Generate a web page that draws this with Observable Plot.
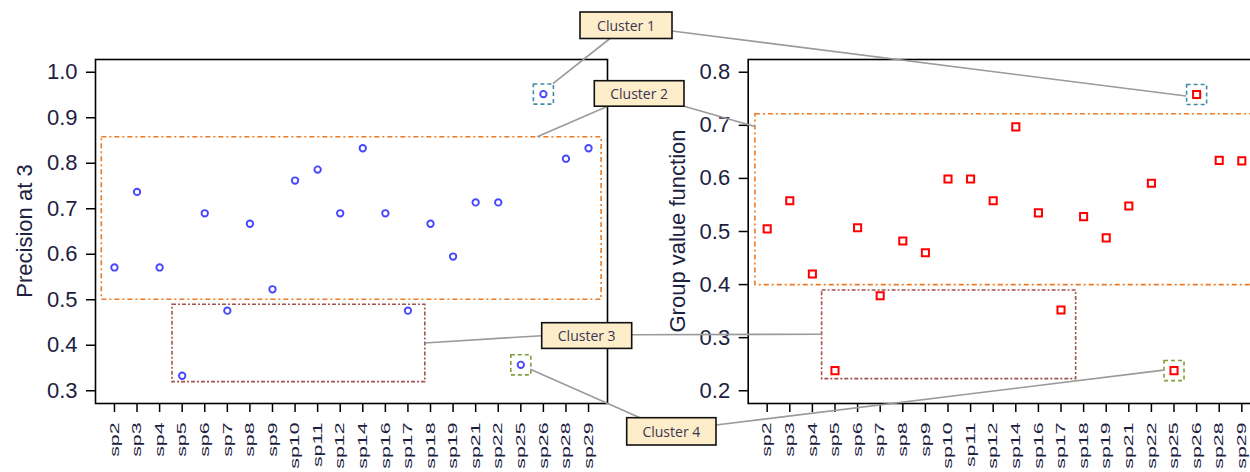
<!DOCTYPE html>
<html><head><meta charset="utf-8">
<script src="https://cdn.jsdelivr.net/npm/d3@7"></script>
<script src="https://cdn.jsdelivr.net/npm/@observablehq/plot@0.6"></script>
<style>
html,body{margin:0;padding:0;background:#fff;}
#wrap{position:relative;width:1250px;height:472px;overflow:hidden;background:#fff;font-family:"Liberation Sans",Arial,sans-serif;}
#wrap svg{position:absolute;top:0;}
</style></head><body><div id="wrap"></div>
<script>
// ---------- data ----------
const species = ["sp2","sp3","sp4","sp5","sp6","sp7","sp8","sp9","sp10","sp11","sp12","sp14","sp16","sp17","sp18","sp19","sp21","sp22","sp25","sp26","sp28","sp29"];
const precision = [0.571,0.737,0.571,0.333,0.690,0.476,0.667,0.523,0.762,0.786,0.690,0.833,0.690,0.476,0.667,0.595,0.714,0.714,0.357,0.952,0.810,0.833];
const groupValue = [0.505,0.558,0.420,0.238,0.507,0.379,0.482,0.460,0.599,0.599,0.558,0.697,0.535,0.352,0.528,0.488,0.548,0.591,0.238,0.758,0.634,0.633];
const precisionTicks = [0.3,0.4,0.5,0.6,0.7,0.8,0.9,1.0];
const groupTicks = [0.2,0.3,0.4,0.5,0.6,0.7,0.8];
const clusterNames = ["Cluster 1","Cluster 2","Cluster 3","Cluster 4"];
// cluster regions: x in species position (1..22), y in value units
const leftRegions = [
  {cluster:"Cluster 2", x1:0.44, x2:22.58, y1:0.500, y2:0.857},
  {cluster:"Cluster 3", x1:3.57, x2:14.77, y1:0.319, y2:0.489}
];
const rightRegions = [
  {cluster:"Cluster 2", x1:0.48, x2:22.60, y1:0.399, y2:0.721},
  {cluster:"Cluster 3", x1:3.43, x2:14.67, y1:0.222, y2:0.389}
];
const singleClusters = [{cluster:"Cluster 1", sp:"sp26"}, {cluster:"Cluster 4", sp:"sp25"}];

// ---------- styles ----------
const clusterColor = {"Cluster 1":"#3f8ca6","Cluster 2":"#ee7b22","Cluster 3":"#a4524f","Cluster 4":"#7f9e3c"};
const clusterDash = {"Cluster 1":"4,3","Cluster 2":"5,3,2,3","Cluster 3":"4,2,2,2","Cluster 4":"4,3"};
const textColor = "#1c2140";

const rows = species.map((s,i)=>({sp:s, i:i+1, p:precision[i], g:groupValue[i]}));
const positions = d3.range(1, species.length + 1);

const LEFT_X = 0, LEFT_W = 625;
const RIGHT_X = 630, RIGHT_W = 650;

function regionMarks(regions){
  return regions.map(r => Plot.rect([r], {x1:"x1", x2:"x2", y1:"y1", y2:"y2", fill:"none",
    stroke: clusterColor[r.cluster], strokeWidth:1.6, strokeDasharray: clusterDash[r.cluster]}));
}
function singleMarks(field){
  return singleClusters.map(c => Plot.dot(rows.filter(d => d.sp === c.sp), {x:"i", y:field, symbol:"square", r:11.3,
    fill:"none", stroke: clusterColor[c.cluster], strokeWidth:1.6, strokeDasharray: clusterDash[c.cluster]}));
}
function panel({width, marginLeft, marginRight, yDomain, yTicks, field, regions, pointMark}){
  return Plot.plot({
    width, height:472, marginLeft, marginRight, marginTop:59, marginBottom:69,
    style:{background:"transparent", overflow:"visible", fontFamily:"Liberation Sans, Arial, sans-serif"},
    x:{domain:[0.16, 22.84]},
    y:{domain:yDomain},
    marks:[
      ...regionMarks(regions),
      ...singleMarks(field),
      pointMark,
      Plot.axisY(yTicks, {tickSize:9, tickPadding:9, fontSize:22, tickFormat:d3.format(".1f"), label:null,
        stroke:"black", strokeWidth:1.5, fill:textColor}),
      Plot.axisX(positions, {tickSize:9, tickPadding:10, fontSize:13, tickRotate:-90, tickFormat:i => species[i-1],
        label:null, stroke:"black", strokeWidth:1.5, fill:textColor}),
      Plot.frame({stroke:"black", strokeWidth:1.6})
    ]
  });
}

const left = panel({width:LEFT_W, marginLeft:95, marginRight:LEFT_W-607, yDomain:[0.272,1.028], yTicks:precisionTicks,
  field:"p", regions:leftRegions,
  pointMark: Plot.dot(rows, {x:"i", y:"p", r:3.2, fill:"none", stroke:"#4646ff", strokeWidth:1.9})});
const right = panel({width:RIGHT_W, marginLeft:747.7-RIGHT_X, marginRight:RIGHT_X+RIGHT_W-1260.3, yDomain:[0.176,0.824], yTicks:groupTicks,
  field:"g", regions:rightRegions,
  pointMark: Plot.dot(rows, {x:"i", y:"g", symbol:"square", r:4, fill:"none", stroke:"#ff0000", strokeWidth:2})});

const wrap = document.getElementById("wrap");
left.style.left = LEFT_X + "px";
right.style.left = RIGHT_X + "px";
wrap.appendChild(left);
wrap.appendChild(right);

// stretch x tick labels along their length (as in the reference)
for (const svg of [left, right]) {
  d3.select(svg).selectAll('g[aria-label="x-axis tick label"] text').each(function(){
    const t = this.getAttribute("transform") || "";
    this.setAttribute("transform", t + " scale(1.64,1)");
  });
}

// ---------- overlay: axis titles, callout labels and connectors ----------
const lx = v => left.scale("x").apply(v) + LEFT_X, ly = v => left.scale("y").apply(v);
const rx = v => right.scale("x").apply(v) + RIGHT_X, ry = v => right.scale("y").apply(v);
const idx = s => species.indexOf(s) + 1;
const val = (arr, s) => arr[species.indexOf(s)];
const half = 10; // half-size of single-point cluster boxes (px)

const labelBoxes = {
  "Cluster 1": {x:580, y:12, w:92, h:26.5},
  "Cluster 2": {x:594.3, y:80.7, w:89.7, h:25.5},
  "Cluster 3": {x:541.7, y:322.7, w:90, h:25.7},
  "Cluster 4": {x:626.7, y:417.7, w:89.3, h:27.3}
};
const connectors = [
  // Cluster 1
  {from:[610, 38.5], to:[lx(idx("sp26"))+half, ly(val(precision,"sp26"))-half]},
  {from:[672, 31], to:[rx(idx("sp26"))-half, ry(val(groupValue,"sp26"))+2]},
  // Cluster 2
  {from:[607.7, 106.2], to:[lx(19.75), ly(leftRegions[0].y2)]},
  {from:[684, 106.2], to:[rx(rightRegions[0].x1), ry(0.697)]},
  // Cluster 3
  {from:[541.7, 335.7], to:[lx(leftRegions[1].x2), ly((leftRegions[1].y1+leftRegions[1].y2)/2)]},
  {from:[631.7, 334.7], to:[rx(rightRegions[1].x1), ry((rightRegions[1].y1+rightRegions[1].y2)/2)]},
  // Cluster 4
  {from:[640, 417.7], to:[lx(idx("sp25"))+half, ly(val(precision,"sp25"))+5]},
  {from:[716, 425], to:[rx(idx("sp25"))-half, ry(val(groupValue,"sp25"))]}
];

const ov = d3.select(wrap).append("svg").attr("width",1250).attr("height",472)
  .style("left","0px").style("pointer-events","none");

ov.append("text").attr("transform","translate(24,231) rotate(-90)")
  .attr("text-anchor","middle").attr("dominant-baseline","central")
  .attr("font-family","Liberation Sans, Arial, sans-serif").attr("font-size",22).attr("fill",textColor)
  .text("Precision at 3");
ov.append("text").attr("transform","translate(677,231) rotate(-90)")
  .attr("text-anchor","middle").attr("dominant-baseline","central")
  .attr("font-family","Liberation Sans, Arial, sans-serif").attr("font-size",22).attr("fill",textColor)
  .text("Group value function");

ov.selectAll("line.conn").data(connectors).join("line")
  .attr("x1",d=>d.from[0]).attr("y1",d=>d.from[1]).attr("x2",d=>d.to[0]).attr("y2",d=>d.to[1])
  .attr("stroke","#9a9a9a").attr("stroke-width",1.6);

const lbl = ov.selectAll("g.lbl").data(clusterNames).join("g")
  .attr("transform", c => `translate(${labelBoxes[c].x},${labelBoxes[c].y})`);
lbl.append("rect").attr("width",c=>labelBoxes[c].w).attr("height",c=>labelBoxes[c].h)
  .attr("fill","#fdedc8").attr("stroke","#111").attr("stroke-width",1.6);
lbl.append("text").attr("x",c=>labelBoxes[c].w/2).attr("y",c=>labelBoxes[c].h/2)
  .attr("text-anchor","middle").attr("dominant-baseline","central")
  .attr("font-family","Open Sans, Noto Sans, sans-serif").attr("font-size",14).attr("fill","#3b3556")
  .text(c=>c);
</script></body></html>
